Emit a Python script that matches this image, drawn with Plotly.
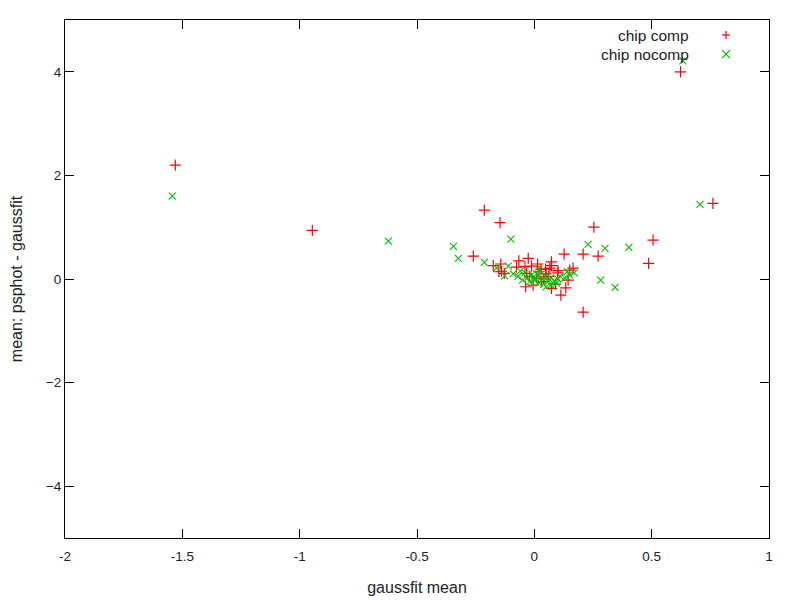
import plotly.graph_objects as go

# chip comp (red +)
comp_x = [-1.530, -0.946, -0.260, -0.213, -0.146, -0.175, -0.143, -0.140, -0.151, -0.128,
          -0.066, -0.076, -0.040, -0.037, -0.026, -0.012, 0.014, 0.028, 0.048, 0.073,
          0.073, 0.066, -0.033, -0.020, 0.010, 0.040, 0.030, 0.073, 0.050, 0.100,
          0.101, 0.127, 0.208, 0.151, 0.165, 0.144, 0.134, 0.113, 0.208, 0.254,
          0.272, 0.487, 0.506, 0.623, 0.761, -0.005, 0.020, 0.060, 0.090]
comp_y = [2.20, 0.94, 0.44, 1.33, 1.09, 0.26, 0.29, 0.15, 0.14, 0.11,
          0.35, 0.23, 0.24, -0.15, 0.40, 0.25, 0.29, 0.19, 0.19, 0.33,
          0.26, 0.21, 0.11, 0.05, 0.02, 0.00, -0.05, -0.18, 0.10, 0.12,
          0.16, 0.48, 0.48, 0.17, 0.21, -0.02, -0.17, -0.31, -0.64, 1.00,
          0.44, 0.30, 0.75, 4.00, 1.46, -0.12, 0.15, 0.05, -0.10]

# chip nocomp (green x)
nocomp_x = [-1.543, -0.622, -0.345, -0.324, -0.213, -0.100, -0.161, -0.111, -0.126, -0.090,
            -0.070, -0.060, -0.030, -0.020, -0.010, 0.000, 0.010, 0.020, 0.030, 0.040,
            0.050, 0.060, 0.070, 0.080, 0.090, 0.094, 0.100, 0.110, 0.130, 0.140,
            0.150, 0.170, 0.020, -0.040, 0.050, 0.070, 0.229, 0.283, 0.301, 0.344,
            0.403, 0.633, 0.706, 0.000, -0.050]
nocomp_y = [1.60, 0.73, 0.63, 0.40, 0.32, 0.77, 0.21, 0.25, 0.06, 0.10,
            0.05, 0.15, 0.02, -0.05, 0.08, -0.02, 0.10, -0.08, 0.03, -0.10,
            0.06, -0.04, 0.02, -0.08, -0.05, -0.08, 0.00, 0.05, 0.02, 0.14,
            0.08, 0.12, 0.18, 0.12, -0.15, -0.12, 0.67, -0.02, 0.59, -0.16,
            0.61, 4.21, 1.44, 0.00, -0.02]

RED = "#ff0000"
GREEN = "#00c000"
FONT = "Liberation Sans"

fig = go.Figure()
fig.add_trace(go.Scatter(x=comp_x, y=comp_y, mode="markers", name="chip comp",
                         marker=dict(symbol="cross-thin", size=8,
                                     line=dict(color=RED, width=1.2))))
fig.add_trace(go.Scatter(x=nocomp_x, y=nocomp_y, mode="markers", name="chip nocomp",
                         marker=dict(symbol="x-thin", size=7,
                                     line=dict(color=GREEN, width=1.1))))

axis_style = dict(showgrid=False, zeroline=False, showline=True, linecolor="black",
                  linewidth=1, mirror="allticks", ticks="inside", ticklen=9,
                  tickcolor="black", automargin=False,
                  tickfont=dict(family=FONT, size=13.5, color="#222222"))

# the page body adds an 8px offset, so margins are shifted to compensate
fig.update_layout(
    width=800, height=600,
    margin=dict(l=57, r=39, t=12, b=70),
    paper_bgcolor="white", plot_bgcolor="white",
    showlegend=False,
    font=dict(family=FONT, size=13.5, color="#222222"),
    xaxis=dict(range=[-2, 1], tickvals=[-2, -1.5, -1, -0.5, 0, 0.5, 1],
               ticktext=["-2", "-1.5", "-1", "-0.5", "0", "0.5", "1"],
               ticklabelstandoff=6,
               title=dict(text="gaussfit mean", standoff=18), **axis_style),
    yaxis=dict(range=[-5, 5], tickvals=[-4, -2, 0, 2, 4],
               title=dict(text="mean: psphot - gaussfit", standoff=22), **axis_style),
)

# gnuplot-style key: text on the left, symbol on the right
keys = [("chip comp", RED, 0.971, "plus"), ("chip nocomp", GREEN, 0.934, "x")]
for label, color, yk, kind in keys:
    fig.add_annotation(x=0.889, y=yk, xref="paper", yref="paper", text=label,
                       showarrow=False, xanchor="right", yanchor="middle",
                       font=dict(family=FONT, size=15.5, color="#222222"))
    if kind == "plus":
        segs = [(-4, 0, 4, 0), (0, -4, 0, 4)]
    else:
        segs = [(-4, -4, 4, 4), (-4, 4, 4, -4)]
    for x0, y0, x1, y1 in segs:
        fig.add_shape(type="line", xref="paper", yref="paper",
                      xsizemode="pixel", ysizemode="pixel",
                      xanchor=0.939, yanchor=yk, x0=x0, y0=y0, x1=x1, y1=y1,
                      line=dict(color=color, width=1.2))

fig.write_html("out.html")
